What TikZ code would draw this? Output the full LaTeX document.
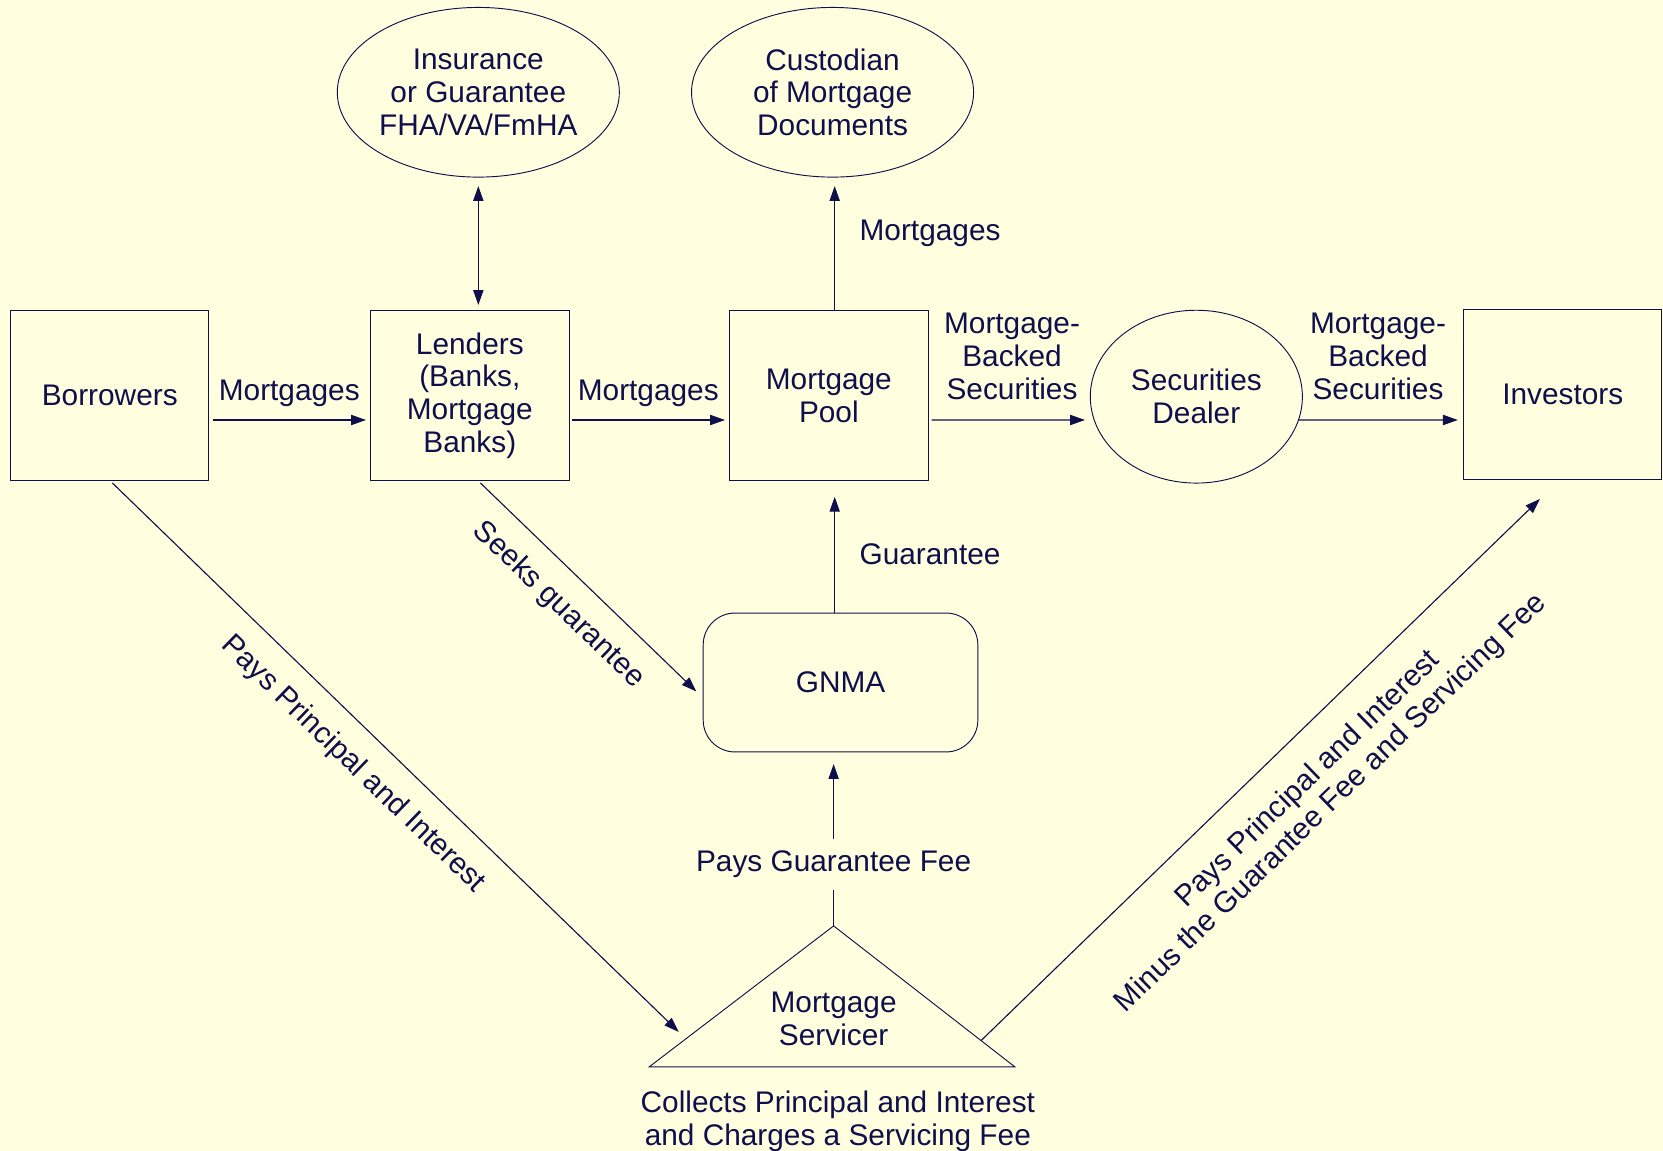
\documentclass[tikz,border=0pt]{standalone}
\usepackage{fontspec}
\setmainfont{Liberation Sans}
\usetikzlibrary{arrows.meta,shapes.geometric,calc}
\definecolor{bg}{RGB}{255,255,224}
\definecolor{ink}{RGB}{15,15,75}
\begin{document}
\begin{tikzpicture}[x=0.02cm,y=-0.02cm,
  font=\fontsize{16}{17.6}\selectfont,
  every node/.style={text=ink, align=center},
  box/.style={draw=ink, line width=0.5pt, minimum width=3.74cm, minimum height=3.2cm, inner sep=0pt},
  oval/.style={ellipse, draw=ink, line width=0.5pt, inner sep=0pt},
  rbox/.style={draw=ink, line width=0.5pt, rounded corners=0.6cm, minimum width=5.18cm, minimum height=2.62cm, inner sep=0pt},
  lbl/.style={inner sep=0pt},
  arr/.style={draw=ink, line width=0.6pt, -{Triangle[length=8pt,width=5.5pt]}},
  darr/.style={draw=ink, line width=0.6pt, {Triangle[length=8pt,width=5.5pt]}-{Triangle[length=8pt,width=5.5pt]}},
  shp/.style={draw=ink, line width=0.5pt}]
\fill[bg] (0,0) rectangle (1568,1085);
\useasboundingbox (0,0) rectangle (1568,1085);

% nodes
\node[box] (borr) at (103.5,373) {Borrowers};
\node[box] (lend) at (443,373) {Lenders\\(Banks,\\Mortgage\\Banks)};
\node[box] (pool) at (781.5,373) {Mortgage\\Pool};
\node[oval, minimum width=4cm, minimum height=3.26cm] (deal) at (1128,374) {Securities\\Dealer};
\node[box] (inv) at (1473.5,372) {Investors};
\node[oval, minimum width=5.32cm, minimum height=3.2cm] (ins) at (451,87) {Insurance\\or Guarantee\\FHA/VA/FmHA};
\node[oval, minimum width=5.32cm, minimum height=3.2cm] (cust) at (785,87) {Custodian\\of Mortgage\\Documents};
\node[rbox] (gnma) at (792.5,643.5) {GNMA};

% servicer triangle
\coordinate (vx) at (787,0);
\draw[shp] (786,873) coordinate (svtop) -- (957,1006) coordinate (svr) -- (612,1006) coordinate (svl) -- cycle;
\node[lbl] (serv) at (786,961) {Mortgage\\Servicer};
\node[lbl] (coll) at (790,1057) {Collects Principal and Interest\\and Charges a Servicing Fee};
\coordinate (svin) at (640,973);
\coordinate (svout) at ($(svtop)!0.813!(svr)$);

% horizontal flows
\draw[arr] ([xshift=0.06cm,yshift=-0.46cm]borr.east) -- ([xshift=-0.08cm,yshift=-0.46cm]lend.west)
  node[lbl, midway, yshift=0.5cm] {Mortgages};
\draw[arr] ([xshift=0.04cm,yshift=-0.46cm]lend.east) -- ([xshift=-0.08cm,yshift=-0.46cm]pool.west)
  node[lbl, midway, yshift=0.5cm] {Mortgages};
\draw[arr] ([xshift=0.06cm,yshift=-0.46cm]pool.east) -- ([xshift=-2.1cm,yshift=-0.44cm]deal.center)
  node[lbl, midway, xshift=0.07cm, yshift=1.2cm] {Mortgage-\\Backed\\Securities};
\draw[arr] ($(deal.center)+(96,22)$) -- ([xshift=-0.1cm,yshift=-0.48cm]inv.west)
  node[lbl, midway, yshift=1.2cm] {Mortgage-\\Backed\\Securities};

% vertical flows
\draw[darr] ([yshift=-0.16cm]ins.south) -- ([yshift=0.1cm]lend.north -| ins.south);
\draw[arr] (pool.north -| vx) -- ([yshift=-0.16cm]cust.south -| vx)
  node[lbl, pos=0.62, right=0.46cm] {Mortgages};
\draw[arr] (gnma.north -| vx) -- ([yshift=-0.3cm]pool.south -| vx)
  node[lbl, midway, right=0.46cm] {Guarantee};
\draw[arr] (svtop) -- ([yshift=-0.22cm]gnma.south -| svtop)
  node[pos=0.38, fill=bg, inner xsep=2pt, inner ysep=0.22cm] {Pays Guarantee Fee};

% diagonal flows
\draw[arr] ([xshift=0.2cm,yshift=-0.04cm]lend.south) -- ([xshift=-0.12cm,yshift=-0.17cm]gnma.west)
  node[lbl, pos=0.469, sloped, below=0.36cm] {Seeks guarantee};
\draw[arr] ([xshift=0.05cm,yshift=-0.04cm]borr.south) -- (svin)
  node[lbl, pos=0.467, sloped, below=0.38cm] {Pays Principal and Interest};
\draw[arr] (svout) -- ([xshift=-0.43cm,yshift=-0.36cm]inv.south)
  node[lbl, pos=0.535, sloped, below=0.49cm] {Pays Principal and Interest\\Minus the Guarantee Fee and Servicing Fee};
\end{tikzpicture}
\end{document}
